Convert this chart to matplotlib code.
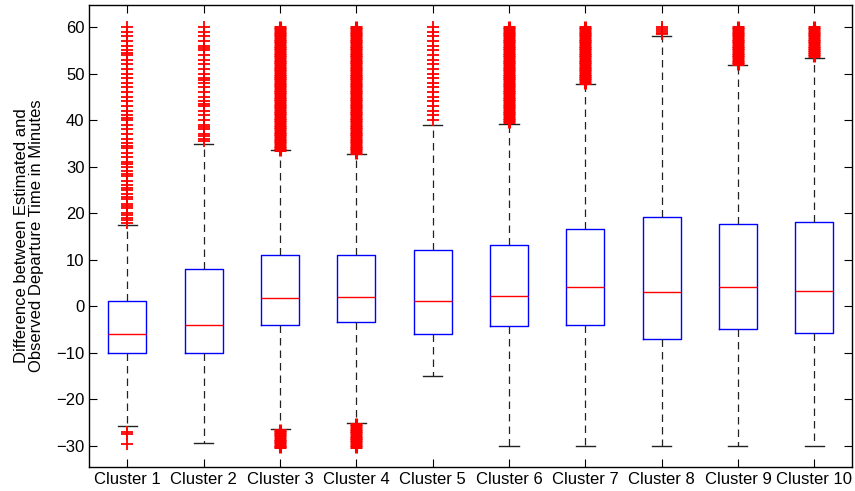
import numpy as np
import matplotlib
matplotlib.use("Agg")
import matplotlib.pyplot as plt

plt.rcParams['font.family'] = ['Liberation Sans', 'DejaVu Sans']

# box statistics (minutes)
labels = ["Cluster %d" % i for i in range(1, 11)]
medians = [-5.9, -4.05, 1.7, 1.9, 1.15, 2.2, 4.1, 3.1, 4.1, 3.35]
q1 = [-10.0, -10.0, -4.05, -3.5, -6.0, -4.3, -4.1, -7.0, -4.9, -5.7]
q3 = [1.1, 7.9, 10.9, 10.9, 12.0, 13.1, 16.6, 19.1, 17.7, 18.0]
whisk_lo = [-25.8, -29.5, -26.4, -25.2, -15.0, -30.0, -30.0, -30.0, -30.0, -30.0]
whisk_hi = [17.4, 34.9, 33.5, 32.8, 39.0, 39.1, 47.7, 58.1, 51.8, 53.4]

# outliers (red +), one list per cluster
out_1 = [17.8, 18.5, 19, 19.5, 20, 21, 21.5, 22, 23, 23.5, 24, 25, 25.5, 26,
         27, 28, 28.5, 29, 30, 30.5, 31, 32, 33, 34, 34.5, 35, 36, 37, 38, 39,
         40, 40.5, 41, 42, 43, 44, 45, 46, 47, 48, 49, 50, 51, 52, 53, 54,
         54.5, 55, 56, 57, 58, 59, 60,
         -27.1, -27.4, -29.7]
out_2 = [35.5, 36, 36.5, 37, 38, 38.5, 39, 40, 41, 42, 43, 43.5, 44, 45, 46,
         47, 48, 48.5, 49, 50, 51, 52, 53, 54, 55, 55.5, 56, 57, 58, 59, 60]
out_3 = [33.5, 34, 34.5, 35, 35.5, 36, 36.5, 37, 37.5, 38, 38.5, 39, 39.5,
         40, 40.5, 41, 41.5, 42, 42.5, 43, 43.5, 44, 44.5, 45, 45.5, 46, 46.5,
         47, 47.5, 48, 48.5, 49, 49.5, 50, 50.5, 51, 51.5, 52, 52.5, 53, 53.5,
         54, 54.5, 55, 55.5, 56, 56.5, 57, 57.5, 58, 58.5, 59, 59.5, 60,
         -26.6, -27, -27.5, -28, -28.5, -29, -29.5, -30, -30.2]
out_4 = [33, 33.5, 34, 34.5, 35, 35.5, 36, 36.5, 37, 37.5, 38, 38.5, 39,
         39.5, 40, 40.5, 41, 41.5, 42, 42.5, 43, 43.5, 44, 44.5, 45, 45.5, 46,
         46.5, 47, 47.5, 48, 48.5, 49, 49.5, 50, 50.5, 51, 51.5, 52, 52.5, 53,
         53.5, 54, 54.5, 55, 55.5, 56, 56.5, 57, 57.5, 58, 58.5, 59, 59.5, 60,
         -25.4, -25.8, -26.3, -26.8, -27.3, -27.8, -28.3, -28.8, -29.3,
         -29.8, -30.2]
out_5 = [40, 41, 42, 43, 44, 45, 46, 47, 48, 49, 50, 51, 52, 53, 54, 55, 56,
         57, 58, 59, 60]
out_6 = [39.5, 40, 40.5, 41, 41.5, 42, 42.5, 43, 43.5, 44, 44.5, 45, 45.5,
         46, 46.5, 47, 47.5, 48, 48.5, 49, 49.5, 50, 50.5, 51, 51.5, 52, 52.5,
         53, 53.5, 54, 54.5, 55, 55.5, 56, 56.5, 57, 57.5, 58, 58.5, 59, 59.5,
         60]
out_7 = [48, 48.5, 49, 49.5, 50, 50.5, 51, 51.5, 52, 52.5, 53, 53.5, 54,
         54.5, 55, 55.5, 56, 56.5, 57, 57.5, 58, 58.5, 59, 59.5, 60]
out_8 = [58.4, 58.8, 59.2, 59.6, 60]
out_9 = [52, 52.5, 53, 53.5, 54, 54.5, 55, 55.5, 56, 56.5, 57, 57.5, 58,
         58.5, 59, 59.5, 60]
out_10 = [53.7, 54.2, 54.6, 55, 55.5, 56, 56.5, 57, 57.5, 58, 58.5, 59, 59.5,
          60]
outliers = [out_1, out_2, out_3, out_4, out_5, out_6, out_7, out_8, out_9, out_10]
# clusters whose outliers merge into a solid band
dense = [3, 4, 6, 7, 9, 10]

stats = []
for i in range(len(labels)):
    stats.append({'label': labels[i], 'med': medians[i], 'q1': q1[i], 'q3': q3[i],
                  'whislo': whisk_lo[i], 'whishi': whisk_hi[i],
                  'fliers': np.array(outliers[i])})

fig = plt.figure(figsize=(8.55, 4.91), dpi=100)
ax = fig.add_axes([0.1044, 0.0495, 0.8926, 0.9397])

bp = ax.bxp(stats, positions=range(1, 11), widths=0.5, capwidths=0.25,
            boxprops=dict(color='#0000ff', linewidth=1.0),
            whiskerprops=dict(color='#222222', linestyle=(0, (6, 4)), linewidth=0.9),
            capprops=dict(color='#222222', linewidth=1.0),
            medianprops=dict(color='#ff0000', linewidth=1.0),
            flierprops=dict(marker='+', markeredgecolor='#ff0000', markersize=8,
                            markeredgewidth=1.3, linestyle='none'))
for k in dense:
    bp['fliers'][k - 1].set_markeredgewidth(2.2)

ax.set_xlim(0.5, 10.5)
ax.set_ylim(-34.5, 64.66)
ax.set_yticks(range(-30, 61, 10))
ax.set_xticks(range(1, 11))
ax.set_xticklabels(labels)
ax.tick_params(direction='in', top=True, right=True, length=5.5, width=0.8,
               labelsize=12, colors='black')
for s in ax.spines.values():
    s.set_linewidth(1.0)

ax.set_ylabel("Difference between Estimated and\nObserved Departure Time in Minutes",
              fontsize=12, linespacing=1.05)
ax.yaxis.set_label_coords(-0.059, 0.5)

fig.savefig("out.png", dpi=100)
